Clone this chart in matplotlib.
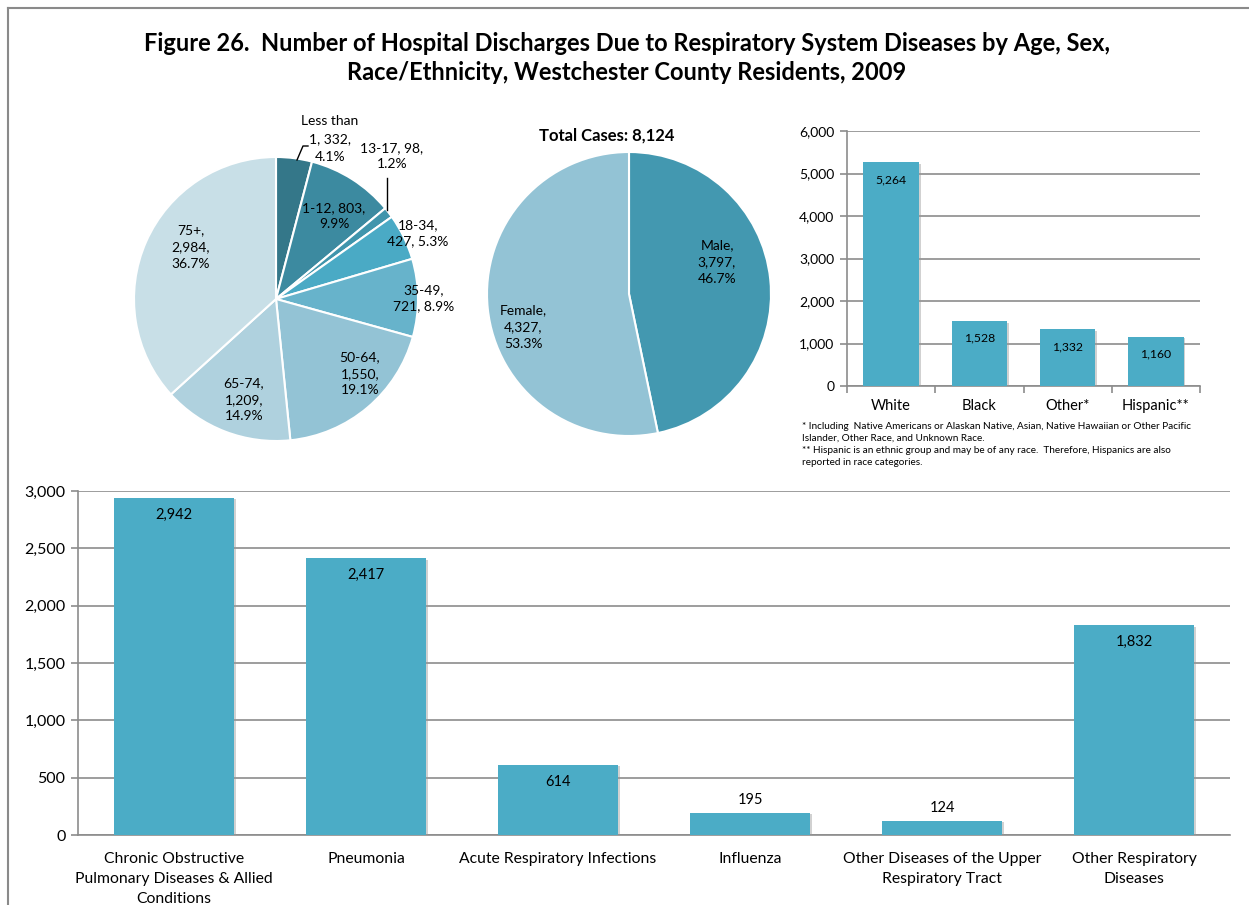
import matplotlib
matplotlib.use("Agg")
import matplotlib.pyplot as plt
import matplotlib.patheffects as pe
from matplotlib.lines import Line2D

plt.rcParams['font.family'] = ['Lato', 'DejaVu Sans']

# ---------------- data ----------------
age_labels = ["Less than\n1", "1-12", "13-17", "18-34", "35-49", "50-64", "65-74", "75+"]
age_values = [332, 803, 98, 427, 721, 1550, 1209, 2984]
age_pcts = ["4.1%", "9.9%", "1.2%", "5.3%", "8.9%", "19.1%", "14.9%", "36.7%"]
age_colors = ["#347789", "#3c8aa0", "#4095ac", "#4aaac5", "#67b3cb", "#93c3d5", "#afd1de", "#c8dfe7"]

sex_labels = ["Male", "Female"]
sex_values = [3797, 4327]
sex_pcts = ["46.7%", "53.3%"]
sex_colors = ["#4398b0", "#93c3d5"]

race_labels = ["White", "Black", "Other*", "Hispanic**"]
race_values = [5264, 1528, 1332, 1160]

disease_labels = ["Chronic Obstructive\nPulmonary Diseases & Allied\nConditions", "Pneumonia",
                  "Acute Respiratory Infections", "Influenza",
                  "Other Diseases of the Upper\nRespiratory Tract", "Other Respiratory\nDiseases"]
disease_values = [2942, 2417, 614, 195, 124, 1832]

title = ("Figure 26.  Number of Hospital Discharges Due to Respiratory System Diseases by Age, Sex,\n"
         "Race/Ethnicity, Westchester County Residents, 2009")
total_text = "Total Cases: 8,124"
footnotes = ("* Including  Native Americans or Alaskan Native, Asian, Native Hawaiian or Other Pacific\n"
             "Islander, Other Race, and Unknown Race.\n"
             "** Hispanic is an ethnic group and may be of any race.  Therefore, Hispanics are also\n"
             "reported in race categories.")

BAR = "#4bacc6"
GRID = "#8c8c8c"
W, H = 1249, 905
fig = plt.figure(figsize=(W / 100, H / 100), dpi=100)

def px_axes(left, top, width, height):
    return fig.add_axes([left / W, (H - top - height) / H, width / W, height / H])

# border
fig.add_artist(Line2D([8 / W, 8 / W], [0, 1 - 8 / H], color="#8a8a8a", lw=1.5))
fig.add_artist(Line2D([8 / W, 1], [1 - 8 / H, 1 - 8 / H], color="#8a8a8a", lw=1.5))

fig.text(627 / W, 1 - 58 / H, title, ha="center", va="center", fontsize=17,
         fontweight="bold", linespacing=1.3)

# -------- age pie --------
R = 142
ax1 = px_axes(276 - R, 299 - R, 2 * R, 2 * R)
ax1.pie(age_values, colors=age_colors, startangle=90, counterclock=False,
        wedgeprops=dict(edgecolor="white", linewidth=1.5))
ax1.set_xlim(-1, 1); ax1.set_ylim(-1, 1); ax1.set_aspect("equal"); ax1.axis("off")

def pc(x, y, cx=276, cy=299):
    return ((x - cx) / R, (cy - y) / R)

age_pos = [(330, 139), (334, 216), (392, 156), (418, 233), (424, 298), (360, 374), (244, 400), (191, 247)]
for lab, v, p, pos in zip(age_labels, age_values, age_pcts, age_pos):
    ls = 1.45
    if lab.startswith("Less"):
        txt = f"{lab}, {v},\n{p}"
        ls = 1.6
    elif lab in ("1-12", "13-17"):
        txt = f"{lab}, {v:,},\n{p}"
    elif lab in ("18-34", "35-49"):
        txt = f"{lab},\n{v:,}, {p}"
    else:
        txt = f"{lab},\n{v:,},\n{p}"
    ax1.text(*pc(*pos), txt, ha="center", va="center", fontsize=10, linespacing=ls,
             clip_on=False)
# leader lines
ax1.plot(*zip(pc(297, 160), pc(303, 146), pc(308, 146)), color="black", lw=1, clip_on=False)
ax1.plot(*zip(pc(387, 210), pc(387, 178)), color="black", lw=1, clip_on=False)

# -------- sex pie --------
ax2 = px_axes(629 - R, 294 - R, 2 * R, 2 * R)
ax2.pie(sex_values, colors=sex_colors, startangle=90, counterclock=False,
        wedgeprops=dict(edgecolor="white", linewidth=1.5))
ax2.set_xlim(-1, 1); ax2.set_ylim(-1, 1); ax2.set_aspect("equal"); ax2.axis("off")
sex_pos = [(717, 262), (523, 327)]
for lab, v, p, pos in zip(sex_labels, sex_values, sex_pcts, sex_pos):
    ax2.text(*pc(*pos, cx=629, cy=294), f"{lab},\n{v:,},\n{p}", ha="center", va="center",
             fontsize=10, linespacing=1.45)
fig.text(607 / W, 1 - 136 / H, total_text, ha="center", va="center", fontsize=12, fontweight="bold")

shadow = [pe.SimplePatchShadow(offset=(1.2, -1.2), shadow_rgbFace="#999999", alpha=0.45), pe.Normal()]

def style_bar_axes(ax, ymax, step, labelsize):
    ax.set_ylim(0, ymax)
    ax.set_yticks(range(0, ymax + 1, step))
    ax.set_yticklabels([f"{t:,}" for t in range(0, ymax + 1, step)], fontsize=labelsize)
    ax.yaxis.grid(True, color=GRID, lw=1.2)
    ax.set_axisbelow(True)
    for s in ("top", "right"):
        ax.spines[s].set_visible(False)
    for s in ("left", "bottom"):
        ax.spines[s].set_color(GRID)
        ax.spines[s].set_linewidth(1.2)
    ax.tick_params(axis="y", color=GRID, length=5, width=1.2, pad=4)

# -------- race bars --------
ax3 = px_axes(847, 131, 353, 255)
xs = range(len(race_values))
bars = ax3.bar(xs, race_values, width=0.63, color=BAR, zorder=3)
for b in bars:
    b.set_path_effects(shadow)
ax3.set_xlim(-0.5, len(race_values) - 0.5)
style_bar_axes(ax3, 6000, 1000, 10)
ax3.set_xticks(list(xs))
ax3.set_xticklabels(race_labels, fontsize=10.5)
ax3.tick_params(axis="x", which="major", length=0, pad=9)
ax3.set_xticks([i - 0.5 for i in range(len(race_values) + 1)], minor=True)
ax3.tick_params(axis="x", which="minor", length=5, color=GRID, width=1.2)
for x, v in zip(xs, race_values):
    ax3.annotate(f"{v:,}", (x, v), xytext=(0, -12.5), textcoords="offset points",
                 ha="center", va="center", fontsize=8.8, zorder=4)
fig.text(802 / W, 1 - 422 / H, footnotes, ha="left", va="top", fontsize=7.2, linespacing=1.45)

# -------- disease bars --------
ax4 = px_axes(78, 491, 1152, 344)
xs = range(len(disease_values))
bars = ax4.bar(xs, disease_values, width=0.625, color=BAR, zorder=3)
for b in bars:
    b.set_path_effects(shadow)
ax4.set_xlim(-0.5, len(disease_values) - 0.5)
style_bar_axes(ax4, 3000, 500, 11.5)
ax4.set_xticks(list(xs))
ax4.set_xticklabels(disease_labels, fontsize=11.3, linespacing=1.55, va="top")
ax4.tick_params(axis="x", length=0, pad=12)
for x, v in zip(xs, disease_values):
    if v > 400:
        ax4.annotate(f"{v:,}", (x, v), xytext=(0, -12.5), textcoords="offset points",
                     ha="center", va="center", fontsize=10.5, zorder=4)
    else:
        ax4.annotate(f"{v:,}", (x, v), xytext=(0, 9), textcoords="offset points",
                     ha="center", va="center", fontsize=10.5, zorder=4)

fig.savefig("out.png", dpi=100)
